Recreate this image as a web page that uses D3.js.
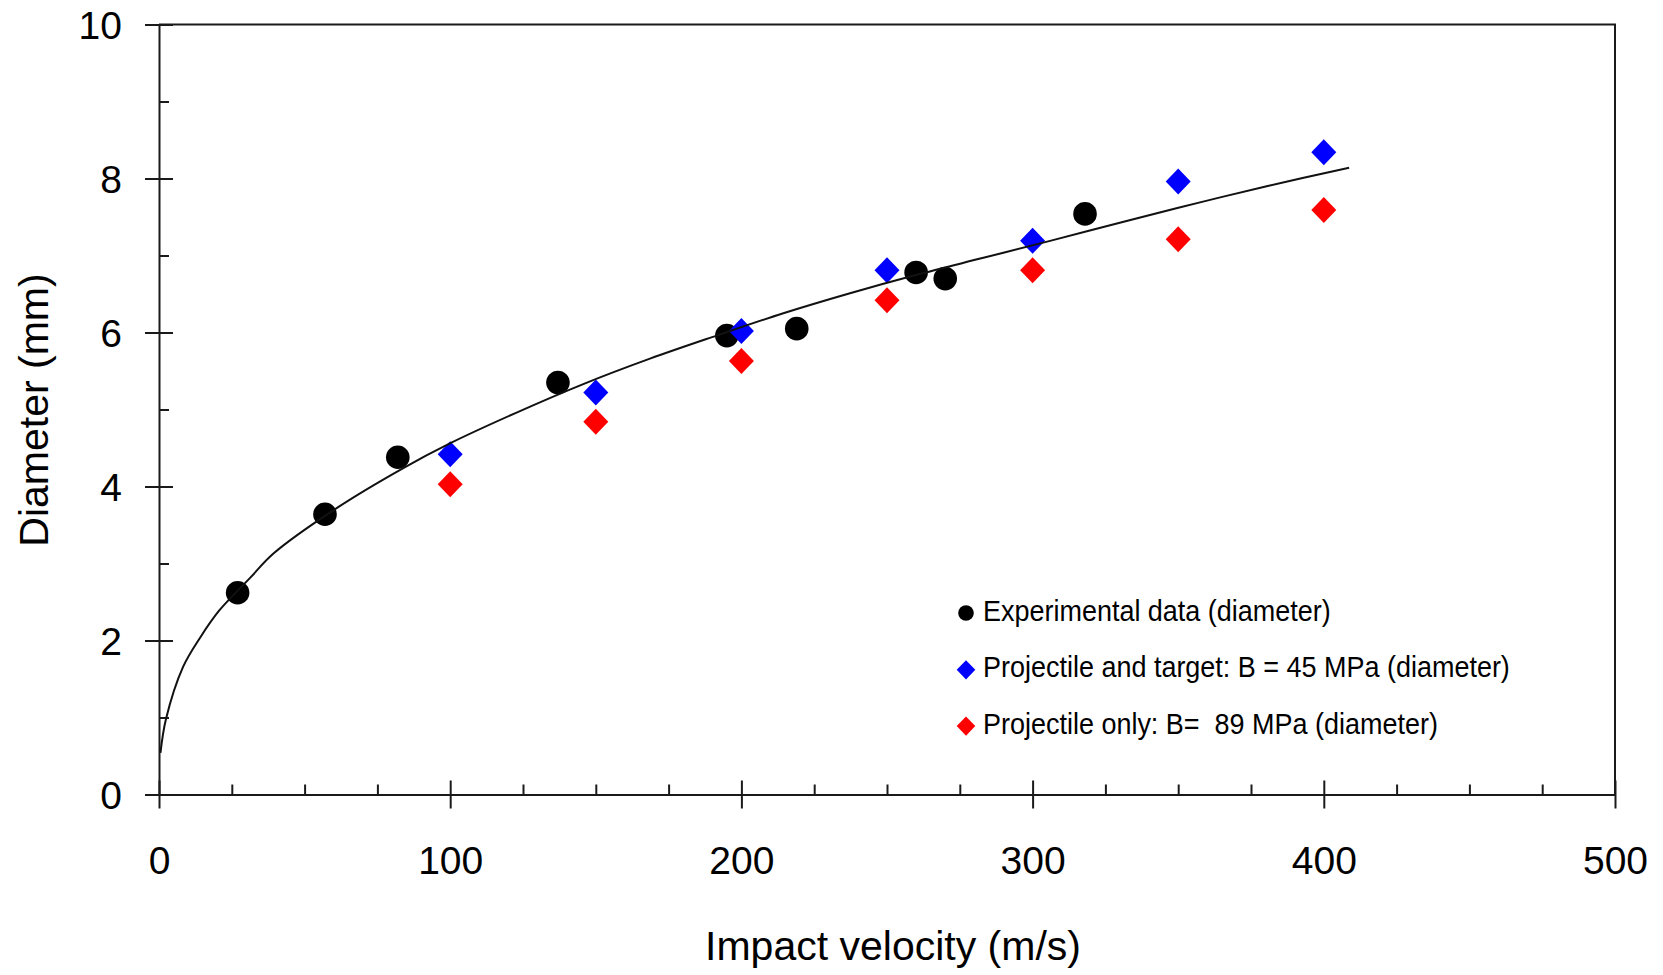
<!DOCTYPE html>
<html>
<head>
<meta charset="utf-8">
<script src="https://cdn.jsdelivr.net/npm/d3@7"></script>
<style>
  html, body { margin: 0; padding: 0; background: #fff; }
  svg { display: block; }
  text { font-family: "Liberation Sans", Arial, sans-serif; fill: #000; }
</style>
</head>
<body>
<svg id="chart" width="1663" height="975"></svg>
<script>
// experimental points (impact velocity m/s, diameter mm)
const expVelocity = [27, 57, 82, 137, 195, 219, 260, 270, 318];
const expDiameter = [2.62, 3.64, 4.38, 5.35, 5.96, 6.05, 6.78, 6.70, 7.54];

// simulations at fixed velocities
const simVelocity = [100, 150, 200, 250, 300, 350, 400];
const bothDiameter = [4.42, 5.22, 6.02, 6.81, 7.19, 7.96, 8.34];   // projectile and target, B = 45 MPa
const projDiameter = [4.03, 4.84, 5.63, 6.42, 6.81, 7.21, 7.59];   // projectile only, B = 89 MPa

// fitted curve
const fitVelocity = [0.5, 2.4, 8.3, 14, 20.7, 31.2, 39.3, 61, 83.9, 99.9, 122.8, 145.7, 168.6,
                     191.5, 214.4, 237.3, 260.2, 283.1, 306, 334.6, 357.5, 380.4, 408.7];
const fitDiameter = [0.54, 0.98, 1.66, 2.03, 2.39, 2.81, 3.13, 3.72, 4.24, 4.56, 4.96, 5.33, 5.66,
                     5.96, 6.25, 6.51, 6.75, 6.97, 7.19, 7.47, 7.69, 7.90, 8.14];

const xMajor = [0, 100, 200, 300, 400, 500];
const xMinor = [25, 50, 75, 125, 150, 175, 225, 250, 275, 325, 350, 375, 425, 450, 475];
const yMajor = [0, 2, 4, 6, 8, 10];
const yMinor = [1, 3, 5, 7, 9];

const legendLabels = [
    "Experimental data (diameter)",
    "Projectile and target: B = 45 MPa (diameter)",
    "Projectile only: B=  89 MPa (diameter)"
];
const legendColors = ["#000000", "#0000ff", "#ff0000"];

const svg = d3.select("#chart");
const plot = { left: 159, right: 1615, top: 24.5, bottom: 794.5 };

const x = d3.scaleLinear().domain([0, 500]).range([plot.left, plot.right]);
const y = d3.scaleLinear().domain([0, 10]).range([plot.bottom, plot.top]);

const axisColor = "#1a1a1a";

// frame (top + right)
svg.append("path")
    .attr("d", `M${plot.left},${plot.top}H${plot.right}V${plot.bottom}`)
    .attr("fill", "none")
    .attr("stroke", axisColor)
    .attr("stroke-width", 2);

// x axis
const gx = svg.append("g").attr("transform", `translate(0,${plot.bottom})`);
gx.call(d3.axisBottom(x).tickValues(xMinor).tickSizeInner(-10).tickSizeOuter(0).tickFormat(""));
gx.call(g => g.select(".domain").remove());
const gx2 = svg.append("g").attr("transform", `translate(0,${plot.bottom})`)
    .call(d3.axisBottom(x).tickValues(xMajor).tickSizeOuter(0).tickFormat(d3.format("d")));
gx2.selectAll(".tick line").attr("y1", -14).attr("y2", 14);
gx2.selectAll(".tick text")
    .attr("y", 79).attr("dy", null)
    .style("font-size", "39px");

// y axis
const gy = svg.append("g").attr("transform", `translate(${plot.left},0)`);
gy.call(d3.axisLeft(y).tickValues(yMinor).tickSizeInner(-10).tickSizeOuter(0).tickFormat(""));
gy.call(g => g.select(".domain").remove());
const gy2 = svg.append("g").attr("transform", `translate(${plot.left},0)`)
    .call(d3.axisLeft(y).tickValues(yMajor).tickSizeOuter(0).tickFormat(d3.format("d")));
gy2.selectAll(".tick line").attr("x1", -14).attr("x2", 14);
gy2.selectAll(".tick text")
    .attr("x", -37).attr("dy", null).attr("y", 14)
    .style("font-size", "39px");

svg.selectAll(".domain, .tick line")
    .attr("stroke", axisColor)
    .attr("stroke-width", 2);
svg.selectAll(".tick text").attr("fill", "#000");

// axis titles
svg.append("text")
    .attr("x", 893).attr("y", 960)
    .attr("text-anchor", "middle")
    .style("font-size", "41px")
    .text("Impact velocity (m/s)");

svg.append("text")
    .attr("transform", "translate(48,410) rotate(-90)")
    .attr("text-anchor", "middle")
    .style("font-size", "41px")
    .text("Diameter (mm)");

// markers
const diamond = (w, h) => `M0,${-h}L${w},0L0,${h}L${-w},0Z`;

svg.append("g").selectAll("circle")
    .data(expVelocity)
    .join("circle")
    .attr("cx", (d) => x(d))
    .attr("cy", (d, i) => y(expDiameter[i]))
    .attr("r", 11.8)
    .attr("fill", legendColors[0]);

svg.append("g").selectAll("path")
    .data(simVelocity)
    .join("path")
    .attr("transform", (d, i) => `translate(${x(d)},${y(bothDiameter[i])})`)
    .attr("d", diamond(12.5, 13))
    .attr("fill", legendColors[1]);

svg.append("g").selectAll("path")
    .data(simVelocity)
    .join("path")
    .attr("transform", (d, i) => `translate(${x(d)},${y(projDiameter[i])})`)
    .attr("d", diamond(12.5, 13))
    .attr("fill", legendColors[2]);

// fit curve
const line = d3.line()
    .x((d) => x(d[0]))
    .y((d) => y(d[1]))
    .curve(d3.curveCatmullRom);

svg.append("path")
    .datum(d3.zip(fitVelocity, fitDiameter))
    .attr("d", line)
    .attr("fill", "none")
    .attr("stroke", "#111")
    .attr("stroke-width", 2);

// legend
const legend = svg.append("g");
const legendRows = legend.selectAll("g")
    .data(legendLabels)
    .join("g")
    .attr("transform", (d, i) => `translate(966,${621 + i * 56.3})`);

legendRows.each(function(d, i) {
    const row = d3.select(this);
    if (i === 0) {
        row.append("circle").attr("cx", 0).attr("cy", -8).attr("r", 7.8).attr("fill", legendColors[0]);
    } else {
        row.append("path").attr("transform", "translate(0,-7.5)").attr("d", diamond(9.3, 9.6)).attr("fill", legendColors[i]);
    }
    row.append("text")
        .attr("transform", "translate(17,0) scale(0.93,1)")
        .style("font-size", "29px")
        .style("white-space", "pre")
        .attr("xml:space", "preserve")
        .text(d);
});
</script>
</body>
</html>
